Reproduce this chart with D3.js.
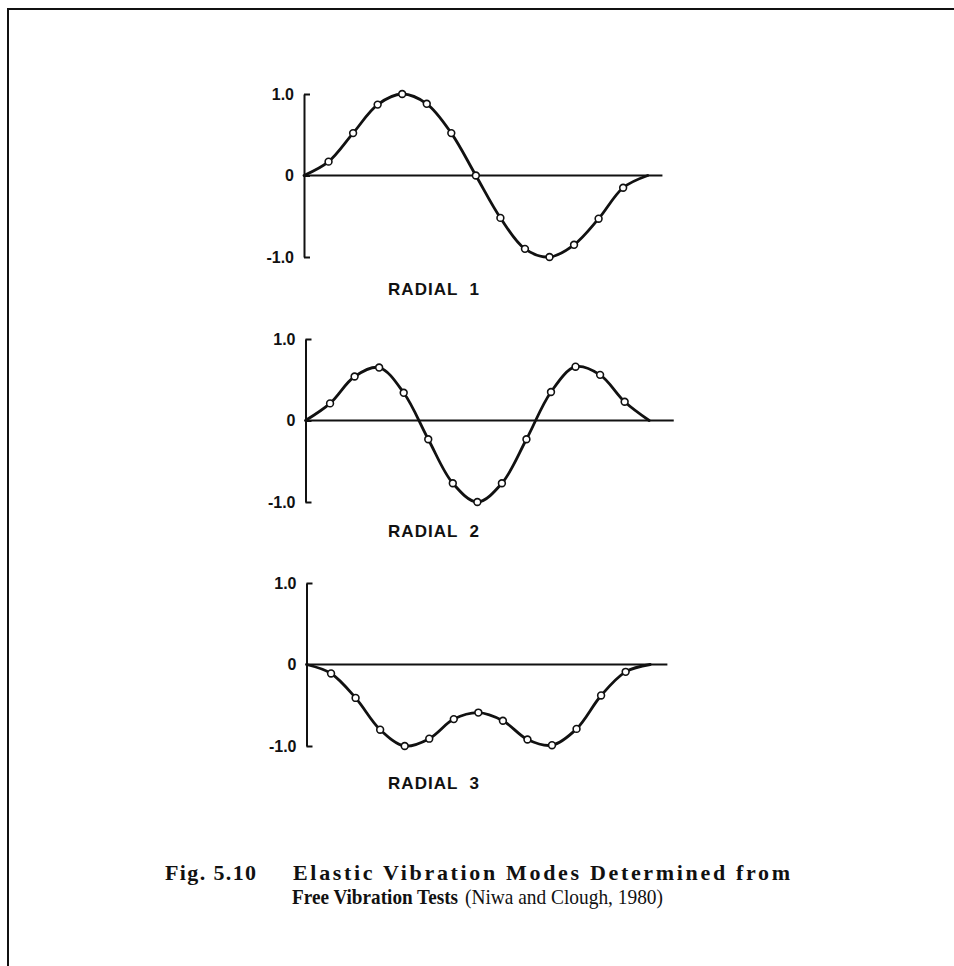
<!DOCTYPE html>
<html>
<head>
<meta charset="utf-8">
<script src="https://cdn.jsdelivr.net/npm/d3@7"></script>
<style>
  html, body { margin: 0; padding: 0; background: #fff; }
  svg { display: block; }
</style>
</head>
<body>
<svg id="fig" width="954" height="966"></svg>
<script>
// Measurement stations along the radius (0 and 14 are the fixed ends)
const stations = d3.range(0, 15);

// Normalised mode-shape amplitudes at each station
const radial1 = [0, 0.17, 0.52, 0.87, 1.00, 0.88, 0.52, 0.00, -0.52, -0.90, -1.00, -0.85, -0.53, -0.15, 0];
const radial2 = [0, 0.21, 0.54, 0.65, 0.34, -0.23, -0.77, -1.00, -0.77, -0.23, 0.35, 0.66, 0.56, 0.23, 0];
const radial3 = [0, -0.11, -0.41, -0.80, -1.00, -0.91, -0.67, -0.59, -0.69, -0.92, -0.99, -0.79, -0.38, -0.09, 0];

const modeNames = ["RADIAL  1", "RADIAL  2", "RADIAL  3"];
const tickValues = [1, 0, -1];
const tickLabels = ["1.0", "0", "-1.0"];

const figNumber = "Fig. 5.10";
const captionTitle = "Elastic Vibration Modes Determined from";
const captionTitle2 = "Free Vibration Tests";
const captionSource = "(Niwa and Clough, 1980)";

// ---- layout ----
const svg = d3.select("#fig");
const layout = [
  { top: 94,  left: 304,   baseEnd: 14.6, labelY: 295 },
  { top: 339, left: 305.5, baseEnd: 15.0, labelY: 537 },
  { top: 583, left: 306.5, baseEnd: 14.7, labelY: 789 }
];
const panelH = 163;
const stepW = 24.55;
const ink = "#111";

// page frame (top and left rules)
svg.append("path")
  .attr("d", "M8,966 V9 H954")
  .attr("fill", "none")
  .attr("stroke", ink)
  .attr("stroke-width", 2);

const modes = [radial1, radial2, radial3];

modes.forEach((values, i) => {
  const L = layout[i];
  const x = d3.scaleLinear().domain([0, 1]).range([L.left, L.left + stepW]);
  const y = d3.scaleLinear().domain([-1, 1]).range([L.top + panelH, L.top]);
  const g = svg.append("g");

  // zero line
  g.append("line")
    .attr("x1", x(0)).attr("x2", x(L.baseEnd))
    .attr("y1", y(0)).attr("y2", y(0))
    .attr("stroke", ink).attr("stroke-width", 2);

  // ordinate axis with inward ticks
  const axis = d3.axisLeft(y)
    .tickValues(tickValues)
    .tickFormat((d, k) => tickLabels[k])
    .tickSizeInner(-6)
    .tickSizeOuter(0)
    .tickPadding(10);
  const ag = g.append("g")
    .attr("transform", `translate(${x(0)},0)`)
    .call(axis);
  ag.select(".domain").attr("stroke", ink).attr("stroke-width", 2);
  ag.selectAll(".tick line").attr("stroke", ink).attr("stroke-width", 2);
  ag.selectAll(".tick text")
    .attr("fill", ink)
    .style("font-family", "'Liberation Sans', Arial, sans-serif")
    .style("font-size", "16px")
    .style("font-weight", "bold");

  // mode shape curve
  const pts = stations.map((s, k) => [s, values[k]]);
  const line = d3.line()
    .x(d => x(d[0]))
    .y(d => y(d[1]))
    .curve(d3.curveCatmullRom.alpha(0.5));
  g.append("path")
    .attr("d", line(pts))
    .attr("fill", "none")
    .attr("stroke", ink)
    .attr("stroke-width", 2.8)
    .attr("stroke-linecap", "round");

  // measured points (interior stations)
  g.selectAll("circle")
    .data(pts.slice(1, -1))
    .join("circle")
    .attr("cx", d => x(d[0]))
    .attr("cy", d => y(d[1]))
    .attr("r", 3.4)
    .attr("fill", "#fff")
    .attr("stroke", ink)
    .attr("stroke-width", 1.6);

  // mode label
  g.append("text")
    .attr("x", 434)
    .attr("y", L.labelY)
    .attr("text-anchor", "middle")
    .attr("fill", ink)
    .style("font-family", "'Liberation Sans', Arial, sans-serif")
    .style("font-size", "17px")
    .style("font-weight", "bold")
    .style("letter-spacing", "1px")
    .style("white-space", "pre")
    .text(modeNames[i]);
});

// caption: each run is fitted to its own width
const cap = svg.append("g")
  .style("font-family", "'Liberation Serif', 'Times New Roman', serif")
  .attr("fill", ink);

const runs = [
  { text: figNumber,     x: 165, y: 880, w: 91,  size: 22, bold: true,  adjust: "spacing" },
  { text: captionTitle,  x: 293, y: 880, w: 497, size: 22, bold: true,  adjust: "spacing" },
  { text: captionTitle2, x: 292, y: 904, w: 166, size: 21, bold: true,  adjust: "spacingAndGlyphs" },
  { text: captionSource, x: 465, y: 904, w: 198, size: 21, bold: false, adjust: "spacingAndGlyphs" }
];
cap.selectAll("text")
  .data(runs)
  .join("text")
  .attr("x", d => d.x)
  .attr("y", d => d.y)
  .attr("textLength", d => d.w)
  .attr("lengthAdjust", d => d.adjust)
  .style("font-size", d => d.size + "px")
  .style("font-weight", d => d.bold ? "bold" : "normal")
  .text(d => d.text);
</script>
</body>
</html>
